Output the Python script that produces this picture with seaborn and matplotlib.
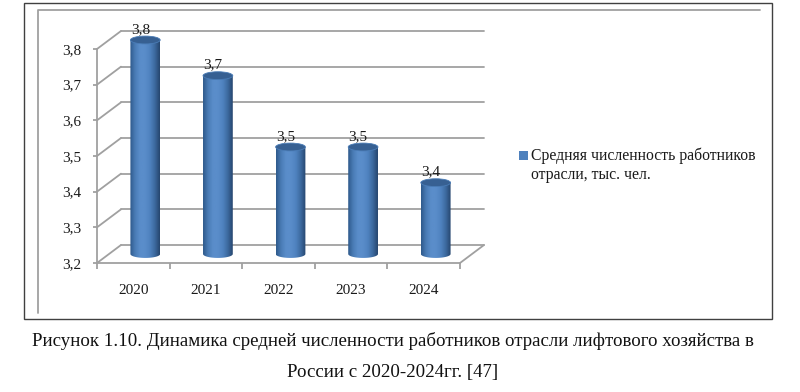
import numpy as np
import pandas as pd
import matplotlib
matplotlib.use("Agg")
import matplotlib.pyplot as plt
import matplotlib.transforms as mtr
from matplotlib.patches import Ellipse, Rectangle, PathPatch
from matplotlib.path import Path
from matplotlib.colors import LinearSegmentedColormap
from matplotlib.legend_handler import HandlerPatch
import seaborn as sns

years = ["2020", "2021", "2022", "2023", "2024"]
values = [3.8, 3.7, 3.5, 3.5, 3.4]
labels = ["3,8", "3,7", "3,5", "3,5", "3,4"]
y_ticks = [3.2, 3.3, 3.4, 3.5, 3.6, 3.7, 3.8]
y_labels = ["3,2", "3,3", "3,4", "3,5", "3,6", "3,7", "3,8"]
series_name = "Средняя численность работников\nотрасли, тыс. чел."
caption1 = "Рисунок 1.10. Динамика средней численности работников отрасли лифтового хозяйства в"
caption2 = "России с 2020-2024гг. [47]"

sns.set_theme(style="white")
plt.rcParams["font.family"] = ["Liberation Serif", "DejaVu Serif"]

W, H = 800, 392
fig = plt.figure(figsize=(W / 100, H / 100), dpi=100, facecolor="white")
GRID = "#a0a0a0"
INK = "#1a1a1a"
LW = 1.3

def fx(px): return px / W
def fy(py): return 1 - py / H

# outer frame and chart-area frame
fig.add_artist(Rectangle((fx(23.5), fy(319)), (772 - 23.5) / W, (319 - 3) / H, transform=fig.transFigure,
                         fill=False, ec="#404040", lw=1.0))
fig.add_artist(plt.Line2D([fx(38), fx(38), fx(760)], [fy(313), fy(9.5), fy(9.5)], color=GRID, lw=LW))

# front plane of the 3D box: x 97..460 px, y 263..49 px
ax = fig.add_axes([fx(97), fy(263), (460 - 97) / W, (263 - 49) / H], facecolor="none")
df = pd.DataFrame({"year": years, "value": values})
sns.barplot(data=df, x="year", y="value", color="#4f81bd", width=0.41, ax=ax, saturation=1, legend=False)
ax.set_xlim(-0.5, 4.5)
ax.set_ylim(3.2, 3.8)

# depth offsets in pixels
back = mtr.offset_copy(ax.transData, fig=fig, x=24, y=18, units="dots")
mid = mtr.offset_copy(ax.transData, fig=fig, x=12, y=9, units="dots")
mid_label = mtr.offset_copy(ax.transData, fig=fig, x=7, y=13, units="dots")

# walls
for v in y_ticks:
    ax.plot([-0.5, 4.5], [v, v], transform=back, color=GRID, lw=LW, clip_on=False, zorder=1)
    x0, y0 = ax.transData.transform((-0.5, v))
    fig.add_artist(plt.Line2D([x0, x0 + 24], [y0, y0 + 18], transform=None, color=GRID, lw=LW, zorder=0.5))
xr, yr = ax.transData.transform((4.5, 3.2))
fig.add_artist(plt.Line2D([xr, xr + 24], [yr, yr + 18], transform=None, color=GRID, lw=LW, zorder=0.5))

# cylinders built on the bars that seaborn drew
cmap = LinearSegmentedColormap.from_list(
    "cyl", ["#2f5a8c", "#4a7cb6", "#5a8dca", "#5a8dca", "#4f82bf", "#3d6a9f", "#26466f"])
grad = np.linspace(0, 1, 64).reshape(1, -1)
eh = 0.022
for patch in list(ax.patches):
    x = patch.get_x(); w = patch.get_width(); top = patch.get_height()
    b = 3.2
    cx = x + w / 2
    t = np.linspace(np.pi, 2 * np.pi, 30)
    arc = np.column_stack([cx + w / 2 * np.cos(t), b + eh / 2 * np.sin(t)])
    verts = np.vstack([[[x, top]], arc, [[x + w, top]], [[x, top]]])
    codes = [Path.MOVETO] + [Path.LINETO] * (len(verts) - 2) + [Path.CLOSEPOLY]
    body = PathPatch(Path(verts, codes), transform=mid, fc="none", ec="none", clip_on=False)
    ax.add_patch(body)
    im = ax.imshow(grad, extent=[x, x + w, b - eh, top], transform=mid, cmap=cmap, aspect="auto", zorder=3)
    im.set_clip_box(fig.bbox)
    im.set_clip_path(body)
    ax.add_patch(Ellipse((cx, top), w, eh, transform=mid, fc="#376092", ec="#4a7cb6", lw=0.6, zorder=4,
                         clip_on=False))
    patch.set_visible(False)
ax.set_xlim(-0.5, 4.5)
ax.set_ylim(3.2, 3.8)

for i, (v, t) in enumerate(zip(values, labels)):
    ax.text(i, v, t, transform=mid_label, ha="center", va="bottom", fontsize=11, color=INK, zorder=5, clip_on=False)

ax.set_xlabel("")
ax.set_ylabel("")
ax.set_yticks(y_ticks, y_labels, fontsize=11, color=INK)
ax.set_xticks(np.arange(-0.5, 5), [""] * 6)
ax.tick_params(axis="y", left=True, length=3, width=LW, color=GRID, pad=8)
ax.tick_params(axis="x", bottom=True, length=4, width=LW, color=GRID)
for i, y in enumerate(years):
    ax.annotate(y, (i, 3.2), xytext=(0, -28), textcoords="offset pixels", ha="center", va="center",
                fontsize=11, color=INK, annotation_clip=False)
sns.despine(ax=ax, top=True, right=True)
for s in ["left", "bottom"]:
    ax.spines[s].set_color(GRID)
    ax.spines[s].set_linewidth(LW)

# legend
def first_line_swatch(legend, orig_handle, xdescent, ydescent, width, height, fontsize):
    return Rectangle((-xdescent, -ydescent + 7.7), width, height)

handle = Rectangle((0, 0), 1, 1, fc="#4f81bd", ec="none")
leg = fig.legend([handle], [series_name], loc="upper left", bbox_to_anchor=(fx(519), fy(148)), frameon=False,
                 fontsize=11.3, handlelength=0.57, handleheight=0.57, handletextpad=0.2, borderpad=0,
                 borderaxespad=0, labelcolor=INK, labelspacing=0,
                 handler_map={Rectangle: HandlerPatch(patch_func=first_line_swatch)})
for t in leg.get_texts():
    t.set_linespacing(1.22)

# caption
fig.text(fx(392.5), fy(340.5), caption1, ha="center", va="center", fontsize=13.56, color="#111111")
fig.text(fx(393), fy(372.5), caption2, ha="center", va="center", fontsize=13.56, color="#111111")

fig.savefig("out.png", dpi=100, facecolor="white")
